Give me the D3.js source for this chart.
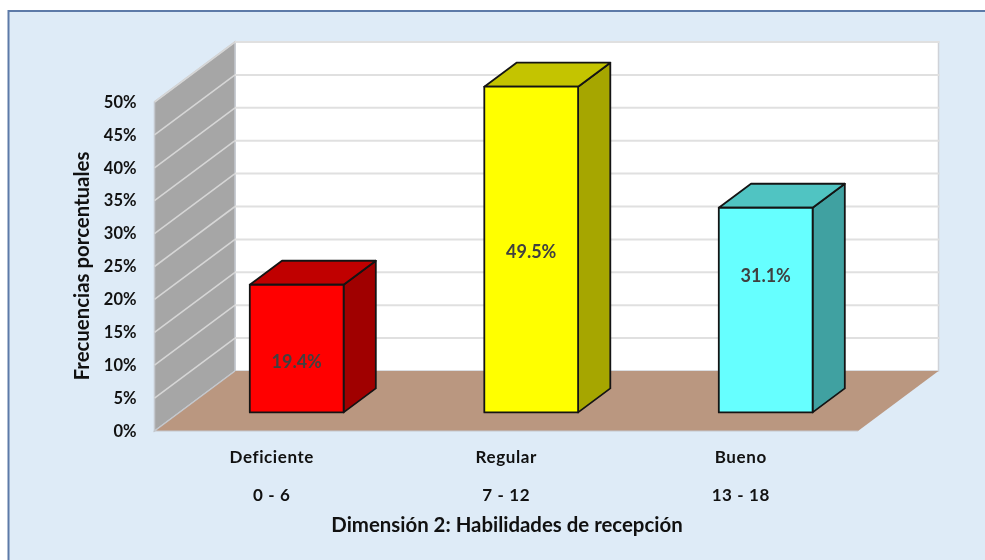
<!DOCTYPE html>
<html lang="es">
<head>
<meta charset="utf-8">
<script src="https://cdn.jsdelivr.net/npm/d3@7"></script>
<style>
html,body{margin:0;padding:0;background:#fff;overflow:hidden}
svg{display:block;filter:blur(0.45px)}
text{font-family:Lato,"Open Sans",sans-serif;font-weight:700;fill:#111;font-variant-ligatures:none}
</style>
</head>
<body>
<svg id="chart" width="985" height="560"></svg>
<script>
const categories = ["Deficiente", "Regular", "Bueno"];
const ranges = ["0 - 6", "7 - 12", "13 - 18"];
const percentages = [19.4, 49.5, 31.1];
const yTicks = [0, 5, 10, 15, 20, 25, 30, 35, 40, 45, 50];
const yTitle = "Frecuencias porcentuales";
const xTitle = "Dimensión 2: Habilidades de recepción";
const frontColors = ["#ff0000", "#ffff00", "#66ffff"];
const topColors = ["#c00000", "#c4c400", "#50c4c2"];
const sideColors = ["#a00000", "#a6a600", "#40a1a1"];

// layout
const depthX = 80.5, depthY = -60;
const barDepthStart = 0.31, barDepthEnd = 0.71;
const labelShift = [14.5, 4, -33];

const svg = d3.select("#chart");
const x = d3.scaleBand().domain(categories).range([154.5, 858]).paddingInner(0.6).paddingOuter(0.3);
const y = d3.scaleLinear().domain([0, 50]).range([431, 102]);
const depth = d3.scaleLinear().domain([0, 1]).range([0, 1]);
const pt = (px, value, d) => [px + depthX * depth(d), y(value) + depthY * depth(d)];
const poly = pts => d3.line()(pts) + "Z";

// chart area
svg.append("rect").attr("x", 8.5).attr("y", 11).attr("width", 990).attr("height", 560)
  .attr("fill", "#deebf7").attr("stroke", "#5d7aa8").attr("stroke-width", 2);

const left = x.range()[0], right = x.range()[1];

// back wall
svg.append("path").attr("d", poly([pt(left, 0, 1), pt(left, 50, 1), pt(right, 50, 1), pt(right, 0, 1)]))
  .attr("fill", "#ffffff").attr("stroke", "#cfd2d8").attr("stroke-width", 1.5);
// side wall
svg.append("path").attr("d", poly([pt(left, 0, 0), pt(left, 50, 0), pt(left, 50, 1), pt(left, 0, 1)]))
  .attr("fill", "#a6a6a6").attr("stroke", "#c4c8ce").attr("stroke-width", 1.5);

// gridlines
svg.append("g").selectAll("path").data(yTicks.filter(t => t > 0)).join("path")
  .attr("d", t => d3.line()([pt(left, t, 1), pt(right + 1, t, 1)]))
  .attr("fill", "none").attr("stroke", "#e0e0e0").attr("stroke-width", 2);
svg.append("g").selectAll("path").data(yTicks.filter(t => t > 0)).join("path")
  .attr("d", t => d3.line()([pt(left, t, 0), pt(left, t, 1)]))
  .attr("fill", "none").attr("stroke", "#d6d6d6").attr("stroke-width", 1.6);

// floor
svg.append("path").attr("d", poly([pt(left, 0, 0), pt(right, 0, 0), pt(right, 0, 1), pt(left, 0, 1)]))
  .attr("fill", "#ba9780");
svg.append("path").attr("d", d3.line()([pt(left, 0, 1), pt(left, 0, 0), pt(right, 0, 0)]))
  .attr("fill", "none").attr("stroke", "#c4c8ce").attr("stroke-width", 1.2);

// bars
const bars = svg.append("g").selectAll("g").data(categories).join("g");
const bw = x.bandwidth();
const faceStyle = s => s.attr("stroke", "#141414").attr("stroke-width", 1.8).attr("stroke-linejoin", "round");
bars.append("path").call(faceStyle).attr("fill", (c, i) => sideColors[i])
  .attr("d", (c, i) => poly([pt(x(c) + bw, 0, barDepthStart), pt(x(c) + bw, percentages[i], barDepthStart), pt(x(c) + bw, percentages[i], barDepthEnd), pt(x(c) + bw, 0, barDepthEnd)]));
bars.append("path").call(faceStyle).attr("fill", (c, i) => topColors[i])
  .attr("d", (c, i) => poly([pt(x(c), percentages[i], barDepthStart), pt(x(c) + bw, percentages[i], barDepthStart), pt(x(c) + bw, percentages[i], barDepthEnd), pt(x(c), percentages[i], barDepthEnd)]));
bars.append("path").call(faceStyle).attr("fill", (c, i) => frontColors[i])
  .attr("d", (c, i) => poly([pt(x(c), 0, barDepthStart), pt(x(c), percentages[i], barDepthStart), pt(x(c) + bw, percentages[i], barDepthStart), pt(x(c) + bw, 0, barDepthStart)]));

// data labels
bars.append("text")
  .attr("x", c => pt(x(c) + bw / 2, 0, barDepthStart)[0])
  .attr("y", (c, i) => pt(0, percentages[i] / 2, barDepthStart)[1] + labelShift[i])
  .attr("text-anchor", "middle").attr("dominant-baseline", "middle")
  .attr("font-size", 18).style("fill", "#404040")
  .text((c, i) => percentages[i].toFixed(1) + "%");

// y axis
const yAxis = svg.append("g").attr("transform", `translate(${left},0)`)
  .call(d3.axisLeft(y).tickValues(yTicks).tickFormat(d => d + "%").tickSize(0).tickPadding(18));
yAxis.select(".domain").remove();
yAxis.selectAll("text").attr("font-size", 16.5).style("font-family", "Lato,sans-serif");

// category axes
const xAxis1 = svg.append("g").attr("transform", "translate(0,450.5)")
  .call(d3.axisBottom(x).tickSize(0).tickPadding(0));
const xAxis2 = svg.append("g").attr("transform", "translate(0,488.5)")
  .call(d3.axisBottom(x).tickSize(0).tickPadding(0).tickFormat((c, i) => ranges[i]));
[xAxis1, xAxis2].forEach(a => {
  a.select(".domain").remove();
  a.selectAll("text").attr("font-size", 17).style("letter-spacing", "0.6px").style("font-family", "Lato,sans-serif");
});

// titles
svg.append("text").attr("transform", "translate(84,266) rotate(-90)")
  .attr("text-anchor", "middle").attr("dominant-baseline", "middle").attr("font-size", 20.4).text(yTitle);
svg.append("text").attr("x", 507).attr("y", 527)
  .attr("text-anchor", "middle").attr("dominant-baseline", "middle").attr("font-size", 20.4).text(xTitle);
</script>
</body>
</html>
